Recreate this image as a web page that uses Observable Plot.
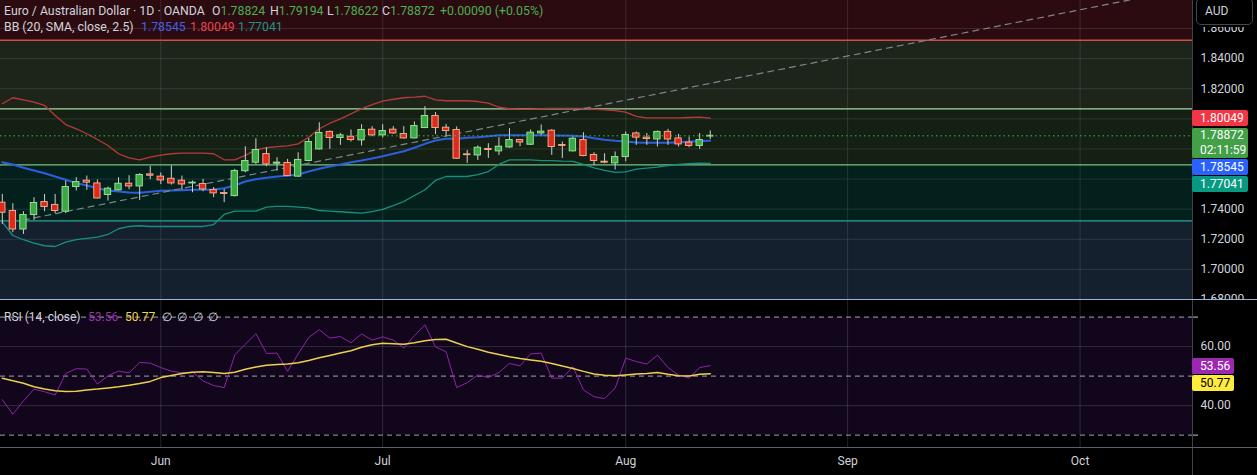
<!DOCTYPE html>
<html><head><meta charset="utf-8">
<script src="https://cdn.jsdelivr.net/npm/d3@7"></script>
<script src="https://cdn.jsdelivr.net/npm/@observablehq/plot@0.6"></script>
<style>
body{margin:0;background:#000;font-family:Roboto,"Liberation Sans",sans-serif;}
#wrap{position:relative;width:1257px;height:475px;overflow:hidden;background:#000}
#wrap svg{position:absolute;left:0}
.t{position:absolute;white-space:nowrap;line-height:16px;font-size:12.3px;color:#d1d4dc}
.r{position:absolute;white-space:nowrap;line-height:16px;font-size:12px;color:#d1d4dc}
.box{position:absolute;left:1192px;width:56px;border-radius:2px;color:#fff;font-size:12px;line-height:16px;padding-left:8px;box-sizing:border-box}
.vline{position:absolute;left:1192px;top:0;width:1px;height:475px;background:#3d4150}
</style></head>
<body><div id="wrap"></div>
<script>
// ---------- data (daily bars, index 0 = 2 Jun 2025, trading days only) ----------
const firstBarIndex = -15; // 12 May 2025
const opens  = [1.7443,1.7388,1.7265,1.7361,1.7447,1.7428,1.7383,1.7547,1.7589,1.7571,1.7494,1.7525,1.7569,1.7551,1.7631,
  1.7616,1.7602,1.7589,1.7571,1.7567,1.7527,1.7507,1.7487,1.7652,1.7709,
  1.7766,1.7702,1.7707,1.7616,1.7720,1.7797,1.7913,1.7873,1.7881,1.7857,
  1.7928,1.7890,1.7928,1.7899,1.7870,1.7939,1.8019,1.7941,1.7926,1.7764,
  1.7757,1.7800,1.7784,1.7810,1.7859,1.7828,1.7903,1.7921,1.7826,1.7784,
  1.7859,1.7760,1.7715,1.7704,1.7746,1.7903,1.7875,1.7863,1.7913,1.7870,
  1.7842,1.7820,1.78824];
const highs  = [1.7498,1.7436,1.7383,1.7476,1.7498,1.7498,1.7587,1.7609,1.7620,1.7594,1.7547,1.7609,1.7622,1.7636,1.7684,
  1.7640,1.7687,1.7620,1.7587,1.7598,1.7543,1.7531,1.7664,1.7815,1.7868,
  1.7808,1.7742,1.7731,1.7775,1.7868,1.7974,1.7919,1.7903,1.7926,1.7961,
  1.7948,1.7961,1.7948,1.7948,1.7979,1.8081,1.8041,1.7963,1.7946,1.7790,
  1.7820,1.7835,1.7875,1.7935,1.7863,1.7926,1.7959,1.7928,1.7846,1.7879,
  1.7908,1.7775,1.7768,1.7780,1.7913,1.7913,1.7903,1.7919,1.7930,1.7897,
  1.7879,1.7903,1.79194];
const lows   = [1.7299,1.7244,1.7232,1.7325,1.7383,1.7370,1.7370,1.7521,1.7525,1.7469,1.7454,1.7521,1.7529,1.7458,1.7596,
  1.7564,1.7560,1.7527,1.7509,1.7516,1.7476,1.7443,1.7481,1.7642,1.7697,
  1.7682,1.7653,1.7616,1.7611,1.7715,1.7793,1.7797,1.7824,1.7846,1.7820,
  1.7881,1.7873,1.7897,1.7866,1.7866,1.7935,1.7895,1.7881,1.7731,1.7704,
  1.7724,1.7737,1.7757,1.7804,1.7815,1.7824,1.7890,1.7757,1.7737,1.7780,
  1.7748,1.7691,1.7702,1.7660,1.7715,1.7824,1.7824,1.7813,1.7824,1.7813,
  1.7808,1.7797,1.78622];
const closes = [1.7376,1.7265,1.7361,1.7441,1.7414,1.7388,1.7547,1.7580,1.7576,1.7471,1.7536,1.7569,1.7551,1.7627,1.7622,
  1.7591,1.7571,1.7564,1.7576,1.7531,1.7505,1.7501,1.7653,1.7720,1.7793,
  1.7697,1.7709,1.7620,1.7727,1.7846,1.7906,1.7873,1.7890,1.7859,1.7926,
  1.7890,1.7919,1.7903,1.7870,1.7952,1.8019,1.7939,1.7919,1.7735,1.7759,
  1.7808,1.7793,1.7815,1.7859,1.7843,1.7908,1.7915,1.7813,1.7820,1.7868,
  1.7753,1.7720,1.7709,1.7746,1.7893,1.7875,1.7866,1.7913,1.7863,1.7830,
  1.7820,1.7859,1.78872];
const bbUpper = [1.8100,1.8140,1.8126,1.8111,1.8089,1.8022,1.7962,1.7934,1.7901,1.7863,1.7823,1.7768,1.7741,1.7728,1.7745,
  1.7759,1.7768,1.7772,1.7772,1.7772,1.7768,1.7728,1.7728,1.7757,1.7794,
  1.7808,1.7816,1.7821,1.7834,1.7878,1.7934,1.7971,1.8000,1.8033,1.8067,
  1.8095,1.8117,1.8130,1.8140,1.8144,1.8150,1.8126,1.8120,1.8120,1.8120,
  1.8115,1.8104,1.8077,1.8067,1.8064,1.8064,1.8067,1.8069,1.8069,1.8069,
  1.8069,1.8064,1.8060,1.8055,1.8044,1.8016,1.8007,1.8007,1.8007,1.8007,
  1.8009,1.8011,1.80049];
const bbBasis = [1.7712,1.7697,1.7675,1.7657,1.7639,1.7617,1.7595,1.7573,1.7557,1.7539,1.7524,1.7518,1.7511,1.7509,1.7516,
  1.7522,1.7524,1.7526,1.7529,1.7529,1.7531,1.7539,1.7557,1.7584,1.7599,
  1.7609,1.7617,1.7622,1.7630,1.7650,1.7668,1.7684,1.7697,1.7712,1.7723,
  1.7737,1.7752,1.7768,1.7785,1.7808,1.7834,1.7856,1.7867,1.7867,1.7874,
  1.7878,1.7885,1.7891,1.7891,1.7891,1.7891,1.7891,1.7889,1.7889,1.7887,
  1.7883,1.7871,1.7861,1.7854,1.7850,1.7843,1.7841,1.7841,1.7841,1.7845,
  1.7848,1.7852,1.78545];
const bbLower = [1.7314,1.7225,1.7197,1.7174,1.7157,1.7152,1.7181,1.7197,1.7206,1.7214,1.7232,1.7270,1.7285,1.7290,1.7285,
  1.7285,1.7285,1.7285,1.7285,1.7285,1.7298,1.7365,1.7387,1.7387,1.7387,
  1.7413,1.7418,1.7418,1.7413,1.7409,1.7391,1.7387,1.7383,1.7378,1.7374,
  1.7383,1.7398,1.7423,1.7451,1.7491,1.7529,1.7591,1.7617,1.7617,1.7617,
  1.7630,1.7650,1.7697,1.7728,1.7728,1.7728,1.7723,1.7723,1.7719,1.7717,
  1.7697,1.7675,1.7657,1.7644,1.7648,1.7666,1.7672,1.7679,1.7690,1.7697,
  1.7702,1.7705,1.77041];
const rsiValues = [42.0,37.1,41.6,45.6,44.7,43.6,50.9,52.5,52.4,47.3,50.1,51.7,51.1,54.6,54.4,
  52.9,51.7,51.1,51.4,48.4,46.8,46.1,57.2,60.8,64.4,
  57.7,57.8,51.6,57.5,63.1,65.7,62.9,63.4,61.3,64.3,
  62.2,63.3,62.2,59.5,63.7,67.4,59.9,58.3,46.1,47.8,
  50.4,49.5,51.2,54.3,53.5,57.5,57.8,49.3,49.3,53.2,
  45.3,43.0,42.4,45.9,56.1,54.9,54.1,57.1,52.9,50.4,
  49.3,52.9,53.56];
const rsiMA = [49.3,48.4,47.6,46.4,45.6,45.0,44.8,44.9,45.3,45.6,46.0,46.4,46.9,47.5,48.2,
  49.5,50.2,50.9,51.3,51.5,51.2,50.9,51.3,52.3,53.1,
  53.7,53.9,54.1,54.5,55.3,56.2,57.0,57.8,58.6,59.8,
  60.6,61.1,61.0,60.8,61.3,62.0,62.4,62.5,61.2,60.0,
  59.1,58.1,57.3,56.6,56.0,55.5,55.0,54.3,53.4,52.6,
  51.6,50.7,50.3,50.1,50.4,50.7,50.9,51.2,50.6,50.1,
  50.0,50.6,50.77];
const priceTicks = [1.68,1.70,1.72,1.74,1.76,1.78,1.80,1.82,1.84,1.86];
const priceTickLabels = [1.68,1.70,1.72,1.74,1.82,1.84,1.86]; // the others sit under the value labels
const monthTickIdx = [0,21,44,65,87];
const monthLabels = ["Jun","Jul","Aug","Sep","Oct"];
const zoneEdges = [1.8522,1.8066,1.7694,1.7322];
const zoneFills = ["#2b0b10","#1d251b","#142013","#03201c","#15202e"];
const zoneLineColors = ["#d34a4a","#a8d8a0","#7cc47f","#26a69a"];
const trendIdx = [-13, 98];
const trendPrice = [1.7328, 1.8878];
const rsiBandLevels = [70, 50, 30];
const rsiGridLevels = [40, 60];
const xDomain = [-15.171, 97.64];
const priceDomain = [1.6800, 1.8786];
const rsiDomain = [25.8, 75.63];

// ---------- build ----------
const bars = opens.map((o, k) => ({i: k + firstBarIndex, o, h: highs[k], l: lows[k], c: closes[k]}));
const idx = (d, k) => k + firstBarIndex;
const bounds = [priceDomain[1] + 0.05, ...zoneEdges, priceDomain[0] - 0.05];
const zones = zoneFills.map((f, k) => ({top: bounds[k], bottom: bounds[k + 1], fill: f}));
const trend = trendIdx.map((t, k) => ({i: t, p: trendPrice[k]}));
const lastClose = closes[closes.length - 1];
const up = d => d.c >= d.o;
const gridColor = "rgba(255,255,255,0.11)";
const wrap = document.getElementById("wrap");

const main = Plot.plot({
  width: 1257, height: 300,
  marginLeft: 0, marginRight: 65, marginTop: 0, marginBottom: 1,
  x: {domain: xDomain, axis: null},
  y: {domain: priceDomain, axis: null},
  style: {background: "transparent", fontFamily: "Roboto, 'Liberation Sans', sans-serif", color: "#d1d4dc"},
  marks: [
    Plot.rect(zones, {x1: () => xDomain[0], x2: () => xDomain[1], y1: "bottom", y2: "top", fill: d => d.fill, clip: true}),
    Plot.ruleY(priceTicks, {stroke: gridColor, clip: true}),
    Plot.ruleX(monthTickIdx, {stroke: gridColor}),
    Plot.ruleY(zoneEdges, {stroke: (d, k) => zoneLineColors[k], strokeWidth: 1.3}),
    Plot.line(bbUpper, {x: idx, y: d => d, stroke: "#b8393d", strokeWidth: 1.3}),
    Plot.line(bbLower, {x: idx, y: d => d, stroke: "#17907f", strokeWidth: 1.3}),
    Plot.line(bbBasis, {x: idx, y: d => d, stroke: "#2c5fe0", strokeWidth: 2}),
    Plot.line(trend, {x: "i", y: "p", stroke: "#80848c", strokeWidth: 1.2, strokeDasharray: "6,5", clip: true}),
    Plot.ruleX(bars, {x: "i", y1: "l", y2: "h", stroke: "#cfcfcf", strokeWidth: 1}),
    Plot.rect(bars, {x1: d => d.i - 0.3, x2: d => d.i + 0.3, y1: "o", y2: "c",
      fill: d => up(d) ? "#3aa845" : "#dc2a1f", stroke: d => up(d) ? "#95df95" : "#f6a788", strokeWidth: 1}),
    Plot.ruleY([lastClose], {stroke: "#4caf50", strokeDasharray: "1.5,3", strokeWidth: 1}),
    Plot.axisY(priceTickLabels, {anchor: "right", tickSize: 0, tickPadding: 8, tickFormat: d => d.toFixed(5),
      fill: "#d1d4dc", fontSize: 12, label: null})
  ]
});
main.style.top = "0px";
wrap.appendChild(main);

const rsi = Plot.plot({
  width: 1257, height: 175,
  marginLeft: 0, marginRight: 65, marginTop: 0, marginBottom: 28,
  x: {domain: xDomain, axis: null},
  y: {domain: rsiDomain, axis: null},
  style: {background: "transparent", fontFamily: "Roboto, 'Liberation Sans', sans-serif", color: "#d1d4dc"},
  marks: [
    Plot.rect([rsiBandLevels], {x1: () => xDomain[0], x2: () => xDomain[1], y1: d => d[2], y2: d => d[0], fill: "#11061b"}),
    Plot.ruleY(rsiGridLevels, {stroke: "rgba(255,255,255,0.14)"}),
    Plot.ruleX(monthTickIdx, {stroke: "rgba(255,255,255,0.14)"}),
    Plot.ruleY(rsiBandLevels, {stroke: "#a3a3ad", strokeDasharray: "5,4", strokeWidth: 1}),
    Plot.line(rsiValues, {x: idx, y: d => d, stroke: "#8e24aa", strokeWidth: 1}),
    Plot.line(rsiMA, {x: idx, y: d => d, stroke: "#ecd14f", strokeWidth: 1.5}),
    Plot.axisY(rsiGridLevels, {anchor: "right", tickSize: 0, tickPadding: 8, tickFormat: d => d.toFixed(2),
      fill: "#d1d4dc", fontSize: 12, label: null}),
    Plot.axisY([70, 30], {anchor: "right", tickSize: 5, tickFormat: () => "", stroke: "#c8c8c8", label: null}),
    Plot.axisX(monthTickIdx, {anchor: "bottom", tickSize: 0, tickPadding: 9,
      tickFormat: d => monthLabels[monthTickIdx.indexOf(d)], fill: "#d1d4dc", fontSize: 12, label: null})
  ]
});
rsi.style.top = "300px";
wrap.appendChild(rsi);

// ---------- separators ----------
function div(style, html, cls) {
  const e = document.createElement("div");
  if (cls) e.className = cls;
  e.setAttribute("style", style);
  if (html != null) e.innerHTML = html;
  wrap.appendChild(e);
  return e;
}
div("", null, "vline");
div("position:absolute;left:0;top:299px;width:1257px;height:1px;background:#9bb6d4");
div("position:absolute;left:0;top:447px;width:1257px;height:1px;background:#5d6068");

// ---------- legends ----------
const G = "#4caf50";
div("left:4px;top:3px", "Euro / Australian Dollar · 1D · OANDA", "t");
const ohlc = [["O", opens], ["H", highs], ["L", lows], ["C", closes]];
const ohlcLeft = [212, 270, 327, 382];
ohlc.forEach(([k, arr], j) => {
  div(`left:${ohlcLeft[j]}px;top:3px`, `${k}<span style="color:${G}">${arr[arr.length - 1].toFixed(5)}</span>`, "t");
});
div(`left:440px;top:3px;color:${G}`, "+0.00090 (+0.05%)", "t");
div("left:4px;top:18.5px", "BB (20, SMA, close, 2.5)", "t");
div("left:141px;top:18.5px;color:#3f62e6", bbBasis[bbBasis.length - 1].toFixed(5), "t");
div("left:190px;top:18.5px;color:#e8434f", bbUpper[bbUpper.length - 1].toFixed(5), "t");
div("left:238px;top:18.5px;color:#1e9582", bbLower[bbLower.length - 1].toFixed(5), "t");

div("left:4px;top:309px", "RSI (14, close)", "r");
div("left:88px;top:309px;color:#9c2fb5", rsiValues[rsiValues.length - 1].toFixed(2), "r");
div("left:125px;top:309px;color:#f2d34a", rsiMA[rsiMA.length - 1].toFixed(2), "r");
[162, 177, 193, 208].forEach(l => div(`left:${l}px;top:309px`, "∅", "r"));

// ---------- axis labels ----------
div("position:absolute;left:1193px;top:0;width:64px;height:27px;background:#000");
div("position:absolute;left:1196px;top:-2px;width:57px;height:27px;box-sizing:border-box;border:1px solid #434651;border-radius:5px;background:#000;color:#d1d4dc;font-size:12px;line-height:25px;padding-left:8px", "AUD");
const ys = main.scale("y");
const redTop = ys.apply(bbUpper[bbUpper.length - 1]) - 7.5;
const greenTop = ys.apply(lastClose) - 7.5;
const blueTop = greenTop + 31;
const tealTop = blueTop + 17;
div(`top:${redTop}px;height:16px;background:#f23645`, bbUpper[bbUpper.length - 1].toFixed(5), "box");
div(`top:${greenTop}px;height:30px;background:#43a047;line-height:15px`, lastClose.toFixed(5) + "<br>02:11:59", "box");
div(`top:${blueTop}px;height:16px;background:#2962ff`, bbBasis[bbBasis.length - 1].toFixed(5), "box");
div(`top:${tealTop}px;height:16px;background:#089981`, bbLower[bbLower.length - 1].toFixed(5), "box");
const rs = rsi.scale("y");
const purpleTop = 300 + rs.apply(rsiValues[rsiValues.length - 1]) - 7.5;
div(`top:${purpleTop}px;height:16px;width:42px;background:#9c27b0`, rsiValues[rsiValues.length - 1].toFixed(2), "box");
div(`top:${purpleTop + 17}px;height:16px;width:42px;background:#ffeb3b;color:#000`, rsiMA[rsiMA.length - 1].toFixed(2), "box");
</script>
</body></html>
